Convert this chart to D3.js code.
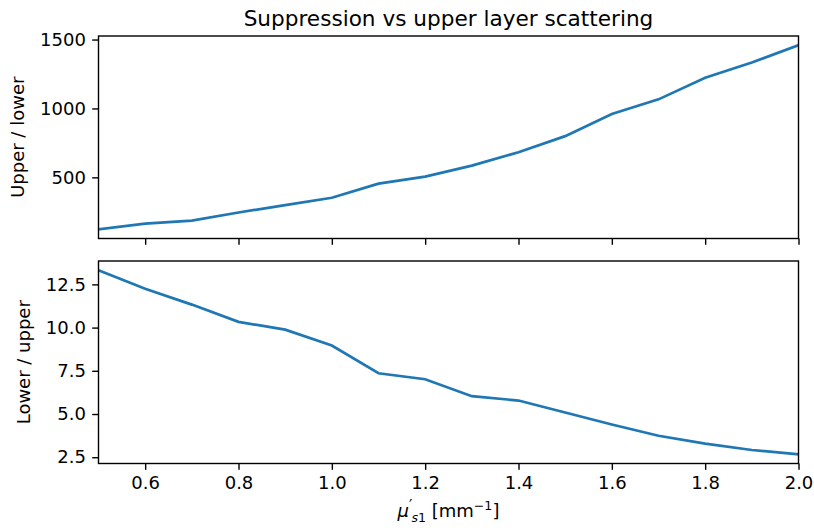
<!DOCTYPE html>
<html>
<head>
<meta charset="utf-8">
<script src="https://cdn.jsdelivr.net/npm/d3@7"></script>
<style>
    body { margin: 0; background: #fff; }
    svg text { font-family: "DejaVu Sans", sans-serif; fill: #000; }
    .axis path, .axis line { stroke: #000; stroke-width: 1.4px; }
    .axis text { font-size: 18px; }
</style>
</head>
<body>
<div id="chart"></div>
<script>
// scattering coefficient of the upper layer
var musValues = [0.5, 0.6, 0.7, 0.8, 0.9, 1.0, 1.1, 1.2, 1.3, 1.4, 1.5, 1.6, 1.7, 1.8, 1.9, 2.0];
var upperLower = [123, 164, 186, 245, 299, 352, 454, 505, 585, 682, 799, 960, 1066, 1223, 1333, 1459];
var lowerUpper = [13.32, 12.25, 11.33, 10.33, 9.88, 8.96, 7.36, 7.01, 6.03, 5.78, 5.09, 4.39, 3.74, 3.29, 2.92, 2.67];
var xTicks = [0.6, 0.8, 1.0, 1.2, 1.4, 1.6, 1.8, 2.0];
var topTicks = [500, 1000, 1500];
var bottomTicks = [2.5, 5.0, 7.5, 10.0, 12.5];

var width = 814, height = 530;
var left = 98.5, right = 798.5;
var panels = [
    {top: 36, bottom: 238.5, values: upperLower, ticks: topTicks, fmt: d3.format("d"), label: "Upper / lower", labelX: 24},
    {top: 261, bottom: 463.5, values: lowerUpper, ticks: bottomTicks, fmt: d3.format(".1f"), label: "Lower / upper", labelX: 30}
];

var svg = d3.select("#chart").append("svg")
    .attr("width", width)
    .attr("height", height);

var x = d3.scaleLinear().domain([0.5, 2.0]).range([left, right]);

panels.forEach(function(p, i) {
    var lo = d3.min(p.values), hi = d3.max(p.values), pad = (hi - lo) * 0.05;
    var y = d3.scaleLinear().domain([lo - pad, hi + pad]).range([p.bottom, p.top]);

    var line = d3.line()
        .x(function(d, j) { return x(musValues[j]); })
        .y(function(d) { return y(d); });

    svg.append("defs").append("clipPath").attr("id", "clip" + i)
        .append("rect")
        .attr("x", left).attr("y", p.top)
        .attr("width", right - left).attr("height", p.bottom - p.top);

    svg.append("path")
        .datum(p.values)
        .attr("clip-path", "url(#clip" + i + ")")
        .attr("fill", "none")
        .attr("stroke", "#1f77b4")
        .attr("stroke-width", 2.7)
        .attr("stroke-linecap", "square")
        .attr("d", line);

    var xAxis = d3.axisBottom(x).tickValues(xTicks).tickSize(6.3).tickSizeOuter(0).tickPadding(6.3)
        .tickFormat(i === 1 ? d3.format(".1f") : function() { return ""; });
    svg.append("g")
        .attr("class", "x axis")
        .attr("transform", "translate(0," + p.bottom + ")")
        .call(xAxis);

    svg.append("g")
        .attr("class", "y axis")
        .attr("transform", "translate(" + left + ",0)")
        .call(d3.axisLeft(y).tickValues(p.ticks).tickFormat(p.fmt).tickSize(6.3).tickSizeOuter(0).tickPadding(6.3));

    // frame round the axes
    svg.append("rect")
        .attr("x", left).attr("y", p.top)
        .attr("width", right - left).attr("height", p.bottom - p.top)
        .attr("fill", "none")
        .attr("stroke", "#000")
        .attr("stroke-width", 1.4);

    svg.append("text")
        .attr("transform", "translate(" + p.labelX + "," + ((p.top + p.bottom) / 2) + ") rotate(-90)")
        .attr("text-anchor", "middle")
        .style("font-size", "18px")
        .text(p.label);
});

svg.selectAll(".axis .domain").remove();

svg.append("text")
    .attr("x", (left + right) / 2)
    .attr("y", 26)
    .attr("text-anchor", "middle")
    .style("font-size", "21.6px")
    .text("Suppression vs upper layer scattering");

var xl = svg.append("text")
    .attr("x", (left + right) / 2)
    .attr("y", 517)
    .attr("text-anchor", "middle")
    .style("font-size", "18px");
xl.append("tspan").style("font-style", "italic").text("μ");
xl.append("tspan").attr("dy", -6).style("font-size", "15px").text("′");
xl.append("tspan").attr("dx", -1).attr("dy", 11).style("font-size", "12.6px").style("font-style", "italic").text("s");
xl.append("tspan").style("font-size", "12.6px").text("1");
xl.append("tspan").attr("dy", -5).text(" [mm");
xl.append("tspan").attr("dy", -7).style("font-size", "12.6px").text("−1");
xl.append("tspan").attr("dy", 7).text("]");
</script>
</body>
</html>
